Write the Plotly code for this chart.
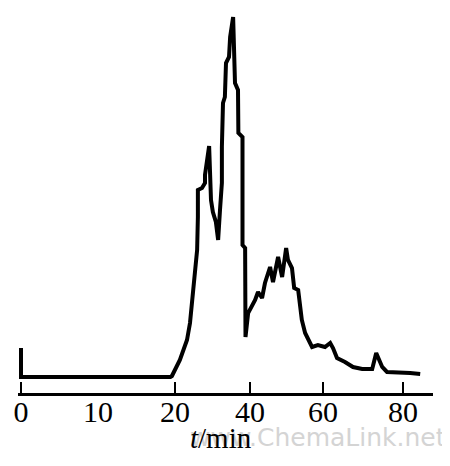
import numpy as np
import plotly.graph_objects as go

# chromatogram: time [min] and detector signal [a.u.]
time_min = [0, 0, 19.4, 19.6, 21.3, 23.2, 24.0, 24.8, 25.9, 26.1, 26.1, 27.2, 28.0,
            28.0, 28.8, 29.1, 29.6, 30.1, 30.9, 31.5, 32.0, 32.5, 32.5, 32.8, 33.3,
            33.6, 34.4, 34.7, 35.5, 35.7, 36.0, 36.8, 36.9, 38.0, 38.0, 38.7, 38.8,
            39.5, 40.0, 41.4, 42.2, 43.3, 44.1, 45.5, 46.3, 47.7, 48.8, 49.9, 50.4,
            51.5, 52.1, 53.2, 54.2, 55.1, 57.0, 58.6, 60.5, 61.8, 62.5, 63.5, 65.5,
            67.5, 69.8, 72.3, 73.3, 74.8, 76.0, 78.5, 81.8, 84.3]
signal = [29, 0, 0, 1, 17, 37, 54, 87, 127, 160, 187, 189, 194,
          202, 227, 231, 177, 165, 155, 137, 167, 194, 230, 274, 280,
          314, 320, 340, 360, 320, 294, 287, 244, 240, 132, 129, 40,
          64, 67, 77, 85, 79, 94, 110, 95, 120, 100, 129, 117,
          109, 89, 87, 57, 44, 30, 32, 30, 34, 29, 19, 15,
          10, 8, 8, 24, 10, 5, 5, 4, 3]

# the time axis of the original is not linear: 0-20 min is stretched
scale_t = [0, 20, 40, 60, 80, 100]
scale_pos = [0, 154, 229, 302, 382, 462]

mark_t = [0, 20, 40, 60, 80]   # labelled and ticked
extra_label_t = 10             # labelled, no tick mark


def to_axis(t):
    return np.interp(t, scale_t, scale_pos)


fig = go.Figure()
fig.add_trace(go.Scatter(
    x=to_axis(time_min), y=signal, mode='lines',
    line=dict(color='black', width=4), showlegend=False))

font = dict(family='Liberation Serif', size=30, color='black')

# page body keeps its 8px margin, so the figure is 8px smaller each way
fig.update_layout(
    width=442, height=458,
    margin=dict(l=10, r=17, t=2, b=73, autoexpand=False),
    paper_bgcolor='white', plot_bgcolor='white',
    xaxis=dict(
        range=[-3, 412], showgrid=False, zeroline=False, automargin=False,
        showline=True, linecolor='black', linewidth=2.5,
        tickvals=to_axis(mark_t), ticktext=[str(v) for v in mark_t],
        ticks='inside', ticklen=11, tickwidth=2, tickcolor='black',
        ticklabelstandoff=-10, tickfont=font),
    yaxis=dict(range=[-16, 367], visible=False, automargin=False),
)

# "10" label without a tick mark, same style as the tick labels
fig.add_annotation(
    text=str(extra_label_t), x=float(to_axis(extra_label_t)), xref='x',
    y=-0.049, yref='paper', yanchor='middle', showarrow=False, font=font)

fig.add_annotation(
    text='www.ChemaLink.net', xref='paper', yref='paper',
    x=1.035, y=-0.117, xanchor='right', yanchor='middle', showarrow=False,
    font=dict(family='DejaVu Sans', size=25, color='#d4d4d4'))

fig.add_annotation(
    text='<i>t</i>/min', xref='paper', yref='paper',
    x=0.49, y=-0.117, xanchor='center', yanchor='middle', showarrow=False,
    font=dict(family='Liberation Serif', size=29, color='black'))

fig.write_html('out.html')
